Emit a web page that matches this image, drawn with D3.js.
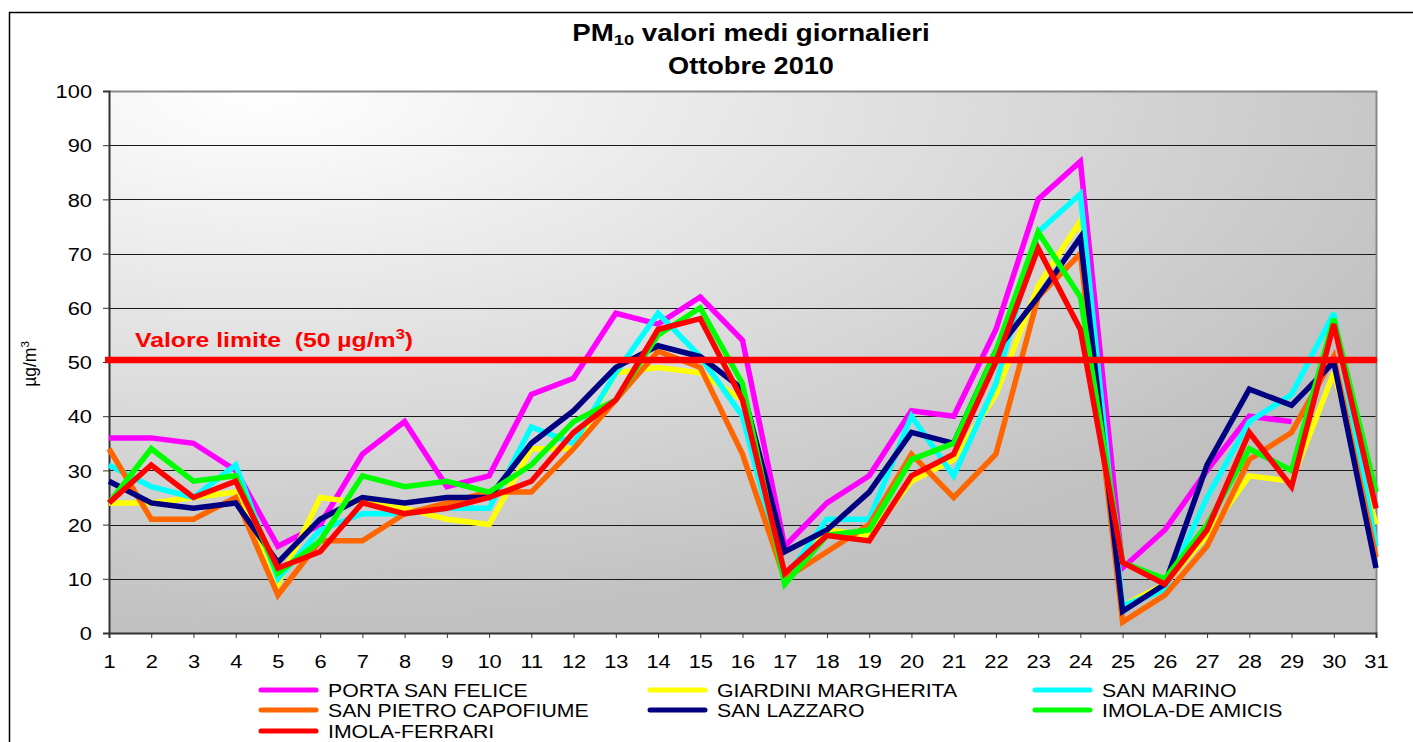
<!DOCTYPE html>
<html>
<head>
<meta charset="utf-8">
<script src="https://cdn.jsdelivr.net/npm/d3@7"></script>
<style>
    body { margin: 0; background: #fff; }
    text { font-family: Arial, "Liberation Sans", sans-serif; }
</style>
</head>
<body>
<div id="chart"></div>
<script>
// PM10 daily means, October 2010

// data:
var days = d3.range(1, 32);
var yTicks = [0, 10, 20, 30, 40, 50, 60, 70, 80, 90, 100];
var limitValue = 50;

var stations = ["PORTA SAN FELICE", "GIARDINI MARGHERITA", "SAN MARINO",
    "SAN PIETRO CAPOFIUME", "SAN LAZZARO", "IMOLA-DE AMICIS", "IMOLA-FERRARI"];

var portaSanFelice = [36, 36, 35, 30, 16, 20, 33, 39, 27, 29, 44, 47, 59, 57, 62, 54,
    16, 24, 29, 41, 40, 56, 80, 87, 12, 19, 30, 40, 39, null, null];
var giardiniMargherita = [24, 24, 25, 26, 9, 25, 24, 23, 21, 20, 34, 34, 48, 49, 48, 43,
    10, 19, 18, 28, 32, 44, 64, 76, 5, 9, 18, 29, 28, 48, 20];
var sanMarino = [31, 27, 25, 31, 10, 19, 22, 22, 23, 23, 38, 35, 48, 59, 51, 40,
    10, 21, 21, 40, 29, 46, 74, 81, 5, 8, 25, 39, 44, 59, 16];
var sanPietroCapofiume = [34, 21, 21, 25, 7, 17, 17, 22, 24, 26, 26, 34, 43, 52, 49, 33,
    10, 15, 20, 33, 25, 33, 62, 70, 2, 7, 16, 32, 37, 51, 14];
var sanLazzaro = [28, 24, 23, 24, 13, 21, 25, 24, 25, 25, 35, 41, 49, 53, 51, 45,
    15, 19, 26, 37, 35, 52, 62, 73, 4, 9, 31, 45, 42, 50, 12];
var imolaDeAmicis = [24, 34, 28, 29, 11, 17, 29, 27, 28, 26, 31, 39, 43, 55, 60, 46,
    9, 18, 19, 32, 35, 52, 74, 62, 13, 10, 20, 34, 30, 58, 26];
var imolaFerrari = [24, 31, 25, 28, 12, 15, 24, 22, 23, 25, 28, 37, 43, 56, 58, 43,
    11, 18, 17, 29, 33, 50, 71, 56, 13, 9, 19, 37, 27, 57, 23];

var seriesValues = [portaSanFelice, giardiniMargherita, sanMarino, sanPietroCapofiume,
    sanLazzaro, imolaDeAmicis, imolaFerrari];
var colors = ["#ff00ff", "#ffff00", "#00ffff", "#ff6600", "#000080", "#00ff00", "#ff0000"];

//text in the original is a bit wider than Arial:
var SX = 1.18;

var width = 1413;
var height = 742;

var svg = d3.select("#chart")
    .append("svg")
    .attr("width", width)
    .attr("height", height);

//plot area (note: "top" is taken by window.top)
var plotLeft = 109, plotRight = 1376, plotTop = 91, plotBottom = 633;

var xScale = d3.scaleLinear().domain([1, 31]).range([plotLeft, plotRight]);
var yScale = d3.scaleLinear().domain([0, 100]).range([plotBottom, plotTop]);

//background gradient
var defs = svg.append("defs");
var grad = defs.append("radialGradient")
    .attr("id", "bg")
    .attr("cx", 0.12).attr("cy", 0)
    .attr("fx", 0.12).attr("fy", 0)
    .attr("r", 1);
grad.append("stop").attr("offset", 0).attr("stop-color", "#ffffff");
grad.append("stop").attr("offset", 1).attr("stop-color", "#c0c0c0");

//outer border
svg.append("rect")
    .attr("x", 9.5).attr("y", 12.5)
    .attr("width", width).attr("height", height)
    .attr("fill", "#fff")
    .attr("stroke", "#000")
    .attr("stroke-width", 1.5);

svg.append("rect")
    .attr("x", plotLeft).attr("y", plotTop)
    .attr("width", plotRight - plotLeft).attr("height", plotBottom - plotTop)
    .attr("fill", "url(#bg)");

//gridlines
svg.append("g")
    .selectAll("line")
    .data(yTicks.filter(function (d) { return d > 0 && d < 100; }))
    .enter().append("line")
    .attr("x1", plotLeft).attr("x2", plotRight)
    .attr("y1", function (d) { return Math.round(yScale(d)) + 0.5; })
    .attr("y2", function (d) { return Math.round(yScale(d)) + 0.5; })
    .attr("stroke", "#1a1a1a")
    .attr("stroke-width", 1.2);

//top and right border of plot area
svg.append("path")
    .attr("d", "M" + plotLeft + "," + (plotTop + 0.5) + "H" + (plotRight + 0.5) + "V" + plotBottom)
    .attr("fill", "none")
    .attr("stroke", "#8a8a8a")
    .attr("stroke-width", 2);

//axes
var yAxis = d3.axisLeft(yScale).tickValues(yTicks).tickSize(6).tickPadding(0);
var xAxis = d3.axisBottom(xScale).tickValues(days).tickSize(5).tickFormat(d3.format("d"));

var gy = svg.append("g")
    .attr("transform", "translate(" + plotLeft + ",0)")
    .call(yAxis);
gy.select(".domain").attr("stroke", "#333").attr("stroke-width", 2);
gy.selectAll(".tick line").attr("stroke", "#333");
gy.selectAll(".tick text")
    .attr("x", -17 / SX)
    .attr("dy", "0.36em")
    .attr("transform", "scale(" + SX + ",1)")
    .attr("font-size", 18.5)
    .attr("fill", "#000");

var gx = svg.append("g")
    .attr("transform", "translate(0," + plotBottom + ")")
    .call(xAxis);
gx.select(".domain").attr("stroke", "#333").attr("stroke-width", 2);
gx.selectAll(".tick line").attr("stroke", "#333");
gx.selectAll(".tick text")
    .attr("y", 35)
    .attr("dy", 0)
    .attr("transform", "scale(" + SX + ",1)")
    .attr("font-size", 18.5)
    .attr("fill", "#000");

//series lines
var line = d3.line()
    .defined(function (d) { return d != null; })
    .x(function (d, i) { return xScale(days[i]); })
    .y(function (d) { return yScale(d); });

svg.append("g")
    .selectAll("path")
    .data(seriesValues)
    .enter().append("path")
    .attr("d", line)
    .attr("fill", "none")
    .attr("stroke", function (d, i) { return colors[i]; })
    .attr("stroke-width", 5.5)
    .attr("stroke-linejoin", "miter")
    .attr("stroke-miterlimit", 3);

//limit line
svg.append("line")
    .attr("x1", plotLeft - 4).attr("x2", plotRight + 1)
    .attr("y1", yScale(limitValue) - 2).attr("y2", yScale(limitValue) - 2)
    .attr("stroke", "#ff0000")
    .attr("stroke-width", 6.5);

var limitText = svg.append("text")
    .attr("transform", "translate(135,347) scale(" + SX + ",1)")
    .attr("font-size", 21)
    .attr("font-weight", "bold")
    .attr("fill", "#ff0000")
    .style("white-space", "pre");
limitText.append("tspan").text("Valore limite  (50 µg/m");
limitText.append("tspan").attr("font-size", 14).attr("dy", -8).text("3");
limitText.append("tspan").attr("dy", 8).text(")");

//titles
var title = svg.append("text")
    .attr("transform", "translate(751,41) scale(" + SX + ",1)")
    .attr("text-anchor", "middle")
    .attr("font-size", 23.5)
    .attr("font-weight", "bold");
title.append("tspan").text("PM");
title.append("tspan").attr("font-size", 15.5).attr("dy", 4).text("10");
title.append("tspan").attr("dy", -4).text(" valori medi giornalieri");

svg.append("text")
    .attr("transform", "translate(751,74) scale(" + SX + ",1)")
    .attr("text-anchor", "middle")
    .attr("font-size", 23)
    .attr("font-weight", "bold")
    .text("Ottobre 2010");

//y axis title
var yTitle = svg.append("text")
    .attr("transform", "translate(36,364) rotate(-90)")
    .attr("text-anchor", "middle")
    .attr("font-size", 17.5);
yTitle.append("tspan").text("µg/m");
yTitle.append("tspan").attr("font-size", 11.5).attr("dy", -7).text("3");

//legend
var legendCols = [261, 650, 1035];
var legendRows = [690, 710, 731];

var legend = svg.append("g")
    .selectAll("g")
    .data(stations)
    .enter().append("g")
    .attr("transform", function (d, i) {
        return "translate(" + legendCols[i % 3] + "," + legendRows[Math.floor(i / 3)] + ")";
    });

legend.append("line")
    .attr("x1", 0).attr("x2", 55)
    .attr("y1", 0).attr("y2", 0)
    .attr("stroke", function (d, i) { return colors[i]; })
    .attr("stroke-width", 5)
    .attr("stroke-linecap", "round");

legend.append("text")
    .attr("transform", "translate(67,6.5) scale(" + SX + ",1)")
    .attr("font-size", 18)
    .text(function (d) { return d; });
</script>
</body>
</html>
